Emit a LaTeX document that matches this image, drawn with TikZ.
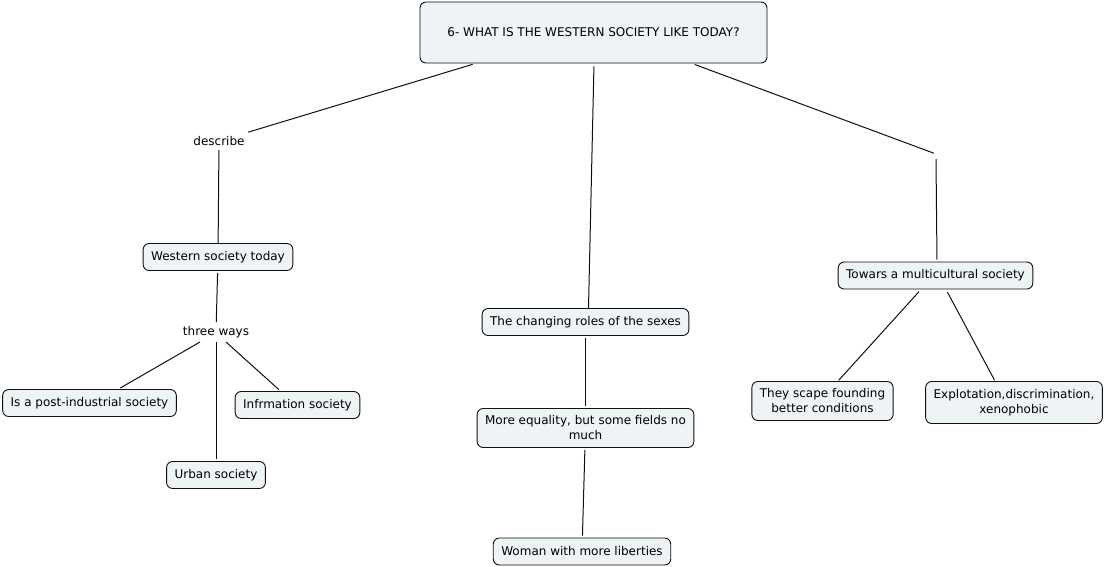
\documentclass[tikz,border=0pt]{standalone}
\usepackage{fontspec}
\setmainfont{DejaVu Sans}
\definecolor{boxfill}{RGB}{238,243,245}
\definecolor{edge}{RGB}{15,15,15}
\begin{document}
\begin{tikzpicture}[x=1pt,y=-1pt,
  concept/.style={draw=edge,line width=0.9pt,fill=boxfill,rounded corners=6pt,
    minimum height=27pt,inner xsep=8pt,inner ysep=4pt,align=center,
    font=\fontsize{12}{15}\selectfont},
  linkword/.style={inner sep=4pt,font=\fontsize{12}{15}\selectfont},
  conn/.style={line width=1pt,draw=edge}]
\useasboundingbox (0,0) rectangle (1104,566);
\node[concept,minimum width=347pt,minimum height=61pt] (title) at (593.5,32.5) {6- WHAT IS THE WESTERN SOCIETY LIKE TODAY?};
\node[linkword] (describe) at (219,141) {describe};
\node[concept] (western) at (218,257) {Western society today};
\node[linkword] (three) at (216,332) {three ways};
\node[concept] (post) at (89.5,403) {Is a post-industrial society};
\node[concept] (info) at (297.5,405) {Infrmation society};
\node[concept] (urban) at (216,475) {Urban society};
\node[concept] (roles) at (585.5,322) {The changing roles of the sexes};
\node[concept,minimum height=39pt] (equal) at (585.5,428) {More equality, but some fields no\\much};
\node[concept] (woman) at (582,551.5) {Woman with more liberties};
\node[inner sep=0pt,minimum width=4pt,minimum height=10pt] (empty) at (936,154) {};
\node[concept] (multi) at (935.5,275.5) {Towars a multicultural society};
\node[concept,minimum height=39pt] (scape) at (822.5,401) {They scape founding\\better conditions};
\node[concept,minimum height=42pt] (explo) at (1014,402.5) {Explotation,discrimination,\\xenophobic};
\draw[conn,shorten <=3pt] ([xshift=-118pt]title.south) -- (describe);
\draw[conn,shorten <=3pt] ([xshift=0.5pt]title.south) -- ([xshift=3pt]roles.north);
\draw[conn,shorten <=3pt] ([xshift=98.5pt]title.south) -- (empty);
\draw[conn] (describe) -- (western);
\draw[conn,shorten <=2pt] (western) -- (three);
\draw[conn,shorten >=2pt] ([xshift=-16pt]three.south) -- ([xshift=29pt]post.north);
\draw[conn,shorten >=2pt] (three.south) -- (urban.north);
\draw[conn,shorten >=2pt] ([xshift=10pt]three.south) -- ([xshift=-17pt]info.north);
\draw[conn,shorten <=2pt,shorten >=2pt] (roles) -- (equal);
\draw[conn,shorten <=2pt,shorten >=2pt] (equal) -- (woman);
\draw[conn,shorten >=2pt] (empty.south) -- ([xshift=1.5pt]multi.north);
\draw[conn,shorten <=3pt,shorten >=1pt] ([xshift=-14.5pt]multi.south) -- ([xshift=15.5pt]scape.north);
\draw[conn,shorten <=3pt,shorten >=1pt] ([xshift=10.5pt]multi.south) -- ([xshift=-19pt]explo.north);
\end{tikzpicture}
\end{document}
